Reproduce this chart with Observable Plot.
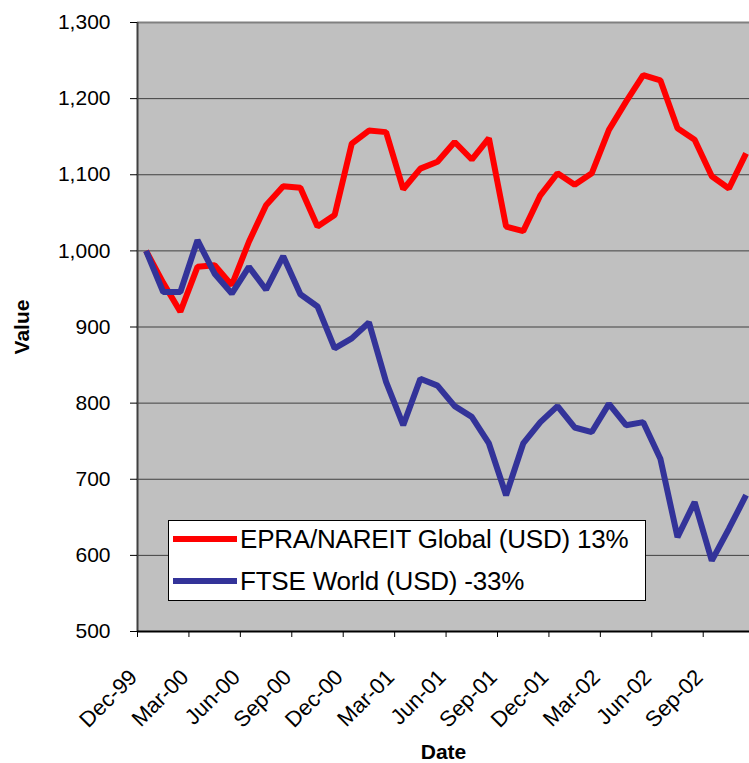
<!DOCTYPE html>
<html>
<head>
<meta charset="utf-8">
<script src="https://cdn.jsdelivr.net/npm/d3@7"></script>
<script src="https://cdn.jsdelivr.net/npm/@observablehq/plot@0.6"></script>
<style>
  html, body { margin: 0; padding: 0; background: #fff; }
  #wrap { position: relative; width: 749px; height: 763px; overflow: hidden; font-family: "Liberation Sans", Arial, sans-serif; }
  #legend { position: absolute; left: 168px; top: 520px; width: 478px; height: 81px; background: #fff; border: 1px solid #000; box-sizing: border-box; }
  .row { position: absolute; left: 4px; height: 32px; display: flex; align-items: center; }
  .sw { width: 64px; height: 6px; margin-right: 3px; }
  .lt { font-size: 26px; color: #000; white-space: nowrap; letter-spacing: -0.2px; }
</style>
</head>
<body>
<div id="wrap"></div>
<script>
// Monthly points (Dec-99 .. Nov-02)
const dates = ["Dec-99","Jan-00","Feb-00","Mar-00","Apr-00","May-00","Jun-00","Jul-00","Aug-00","Sep-00","Oct-00","Nov-00",
  "Dec-00","Jan-01","Feb-01","Mar-01","Apr-01","May-01","Jun-01","Jul-01","Aug-01","Sep-01","Oct-01","Nov-01",
  "Dec-01","Jan-02","Feb-02","Mar-02","Apr-02","May-02","Jun-02","Jul-02","Aug-02","Sep-02","Oct-02","Nov-02"];
const epra = [1000, 958, 920, 979, 981, 955, 1012, 1060, 1085, 1083, 1032, 1047,
  1141, 1158, 1156, 1081, 1108, 1117, 1143, 1120, 1148, 1032, 1026, 1073,
  1102, 1087, 1102, 1159, 1196, 1231, 1224, 1161, 1146, 1098, 1082, 1128];
const ftse = [1000, 946, 946, 1014, 970, 944, 979, 949, 993, 943, 927, 872,
  885, 906, 828, 771, 832, 823, 796, 782, 747, 679, 747, 775,
  796, 768, 762, 799, 771, 775, 727, 624, 670, 593, 635, 679];
const tickLabels = ["Dec-99","Mar-00","Jun-00","Sep-00","Dec-00","Mar-01","Jun-01","Sep-01","Dec-01","Mar-02","Jun-02","Sep-02"];
const yTicks = [500, 600, 700, 800, 900, 1000, 1100, 1200, 1300];
const seriesNames = ["EPRA/NAREIT Global (USD) 13%", "FTSE World (USD) -33%"];
const seriesColors = ["#ff0000", "#333399"];
const xTitle = "Date";
const yTitle = "Value";

const rows = [];
dates.forEach((d, i) => {
  rows.push({i, date: d, value: epra[i], series: seriesNames[0]});
  rows.push({i, date: d, value: ftse[i], series: seriesNames[1]});
});
// category boundaries every 3 months (tick marks between categories)
const xTickRows = tickLabels.map((label, k) => ({pos: k * 3 - 0.5, label}));
const fmt = d3.format(",");

const chart = Plot.plot({
  width: 749,
  height: 763,
  marginLeft: 137,
  marginRight: 0,
  marginTop: 22,
  marginBottom: 132,
  style: { fontFamily: "'Liberation Sans', Arial, sans-serif", fontSize: "21px", background: "#fff", color: "#000" },
  x: { type: "linear", domain: [-0.5, 35.2], axis: null },
  y: { domain: [500, 1300], axis: null },
  color: { domain: seriesNames, range: seriesColors },
  marks: [
    Plot.frame({ fill: "#c0c0c0", stroke: null }),
    Plot.gridY(yTicks.filter(t => t > 500 && t < 1300), { stroke: "#404040", strokeOpacity: 1, strokeWidth: 1 }),
    Plot.ruleY([1300], { stroke: "#808080", strokeWidth: 2 }),
    Plot.line(rows, { x: "i", y: "value", z: "series", stroke: "series", strokeWidth: 6, strokeLinejoin: "miter", strokeLinecap: "butt" }),
    Plot.ruleX([-0.5], { stroke: "#404040", strokeWidth: 2 }),
    Plot.ruleY([500], { stroke: "#000", strokeWidth: 2 }),
    // y ticks + labels
    Plot.axisY(yTicks, { tickFormat: () => "", tickSize: 7, label: null, stroke: "#000" }),
    Plot.text(yTicks, { y: d => d, text: d => fmt(d), frameAnchor: "left", textAnchor: "end", dx: -27, fontSize: 21, fill: "#000" }),
    // x ticks + rotated labels
    Plot.axisX(xTickRows.map(d => d.pos), { tickFormat: () => "", tickSize: 6, label: null, stroke: "#000" }),
    Plot.text(xTickRows, { x: "pos", text: "label", frameAnchor: "bottom", rotate: -45, textAnchor: "end", lineAnchor: "middle", dx: -4, dy: 42, fontSize: 22, fill: "#000" }),
    // axis titles
    Plot.text([yTitle], { frameAnchor: "left", rotate: -90, textAnchor: "middle", lineAnchor: "middle", dx: -115, fontSize: 21, fontWeight: "bold", fill: "#000" }),
    Plot.text([xTitle], { frameAnchor: "bottom", textAnchor: "middle", lineAnchor: "middle", dy: 121, fontSize: 21, fontWeight: "bold", fill: "#000" })
  ]
});
const wrap = document.getElementById("wrap");
wrap.appendChild(chart);

const legend = document.createElement("div");
legend.id = "legend";
seriesNames.forEach((name, k) => {
  const row = document.createElement("div");
  row.className = "row";
  row.style.top = (k === 0 ? 2 : 44) + "px";
  const sw = document.createElement("div");
  sw.className = "sw";
  sw.style.background = seriesColors[k];
  const t = document.createElement("span");
  t.className = "lt";
  t.textContent = name;
  row.appendChild(sw);
  row.appendChild(t);
  legend.appendChild(row);
});
wrap.appendChild(legend);
</script>
</body>
</html>
